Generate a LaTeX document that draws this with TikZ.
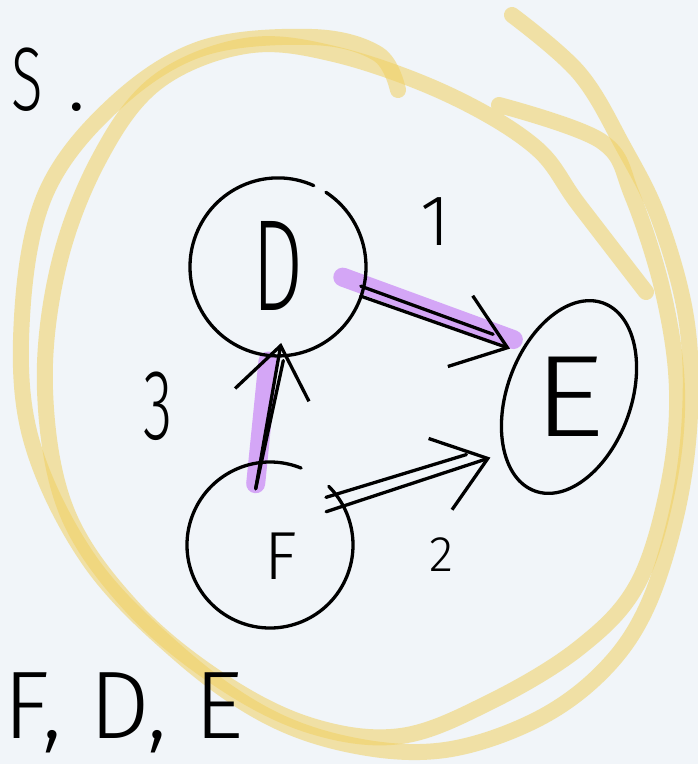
\documentclass[tikz,border=0pt]{standalone}
\usepackage{fontspec}
\setmainfont{Fira Sans Light}
\usetikzlibrary{arrows.meta,shapes.geometric}
\definecolor{paper}{HTML}{F1F5F9}
\definecolor{marker}{HTML}{F0D060}
\definecolor{lilac}{HTML}{D4A6F6}
\newcommand{\fs}[1]{\fontsize{#1}{#1}\selectfont}
\begin{document}
\begin{tikzpicture}[x=1pt,y=-1pt,
  ink/.style={line width=3.3pt, line cap=round, line join=round, black},
  hilite/.style={line width=19pt, line cap=round, lilac},
  loopstroke/.style={line width=16pt, line cap=round, line join=round, marker, opacity=0.55},
  vertex/.style={ellipse, inner sep=0pt, outer sep=0pt},
  tag/.style={inner sep=0pt, outer sep=0pt, text=black},
  head/.style={-{Straight Barb[length=50pt, width=75pt, line width=3.3pt]}}
]
\useasboundingbox (0,0) rectangle (698,764);
\fill[paper] (0,0) rectangle (698,764);
\clip (0,0) rectangle (698,764);

% marker loops round the whole graph
\draw[loopstroke] plot[smooth, tension=0.6] coordinates {
  (512,15) (579,73) (623,146) (659,219) (686,317) (690,414) (677,512)
  (646,609) (601,673) (534,721) (445,750) (356,746) (267,716) (178,653)
  (89,560) (31,439) (22,317) (45,195) (111,107) (200,49) (312,37)
  (378,54) (398,90)};
\draw[loopstroke] plot[smooth, tension=0.6] coordinates {
  (499,105) (601,141) (632,195) (663,292) (677,390) (668,487) (637,585)
  (579,648) (490,702) (401,736) (312,726) (223,682) (134,609) (67,512)
  (45,390) (58,268) (98,161) (156,83) (245,46) (334,54) (445,93)
  (534,146) (579,205) (646,292)};

% vertices
\node[vertex, minimum width=176pt, minimum height=178pt] (D) at (278,266) {};
\node[vertex, minimum width=124pt, minimum height=200pt, rotate=-20] (E) at (569,397) {};
\node[vertex, minimum width=166pt, minimum height=165pt] (F) at (270,545) {};

% highlighted path F -> D -> E
\draw[hilite] ([yshift=-20pt]F.100) -- ([xshift=-10pt, yshift=-6pt]D.-90);
\draw[hilite] ([xshift=-18pt, yshift=19pt]D.-20) -- ([xshift=-8pt, yshift=13pt]E.157);

% vertex outlines, open where the pen lifted
\draw[ink] ([shift={(66:88pt)}]D.center) arc[start angle=66, end angle=417, x radius=88pt, y radius=89pt];
\draw[ink, rotate around={-20:(E.center)}] (E.center) ellipse[x radius=62pt, y radius=100pt];
\draw[ink] ([shift={(68:83pt)}]F.center) arc[start angle=68, end angle=405, radius=83pt];

% edges
\draw[ink, head, shorten >=12pt] (D.-20) -- (E.157);
\draw[ink, shorten >=30pt] ([yshift=10pt]D.-20) -- ([yshift=8pt]E.157);
\draw[ink, head, shorten >=15pt, shorten <=-18pt] (F.28) -- (E.241);
\draw[ink, shorten >=40pt, shorten <=-18pt] ([yshift=14pt]F.28) -- ([yshift=10pt]E.241);
\draw[ink, head] ([yshift=-25pt]F.100) -- ([yshift=12pt]D.-88);
\draw[ink, shorten >=18pt] ([yshift=-25pt]F.100) -- ([xshift=6pt, yshift=12pt]D.-88);

% letters
\node[tag, font=\fs{130}] at (D.center) {\scalebox{0.62}[1]{D}};
\node[tag, font=\fs{116}] at (E.center) {\scalebox{1.2}[1]{E}};
\node[tag, font=\fs{68}] at ([xshift=11pt, yshift=-11pt]F.center) {F};
\node[tag, font=\fs{72}] (w1) at (435,222) {1};
\node[tag, font=\fs{50}] (w2) at (441,555) {2};
\node[tag, font=\fs{100}] (w3) at (158,406) {\scalebox{0.6}[1]{3}};
\node[tag, font=\fs{90}, anchor=base west] (title) at (12,110) {\scalebox{0.65}[1]{S}\hspace{24pt}.};
\node[tag, font=\fs{96}, anchor=base west] (order) at (4,738) {F, D, E};
\end{tikzpicture}
\end{document}
